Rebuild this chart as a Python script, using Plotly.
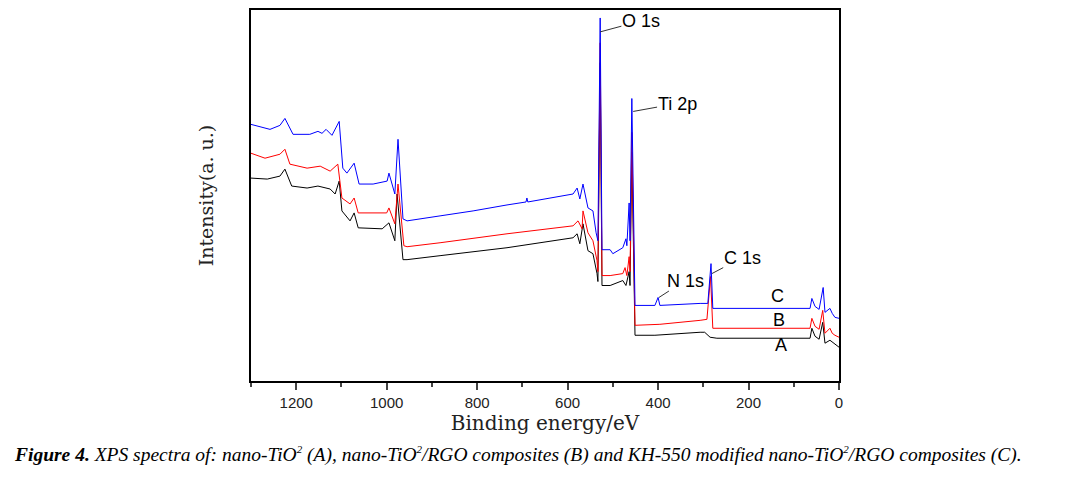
import plotly.graph_objects as go

# Binding energy (eV) and intensity (a.u.)
be_A = [1300, 1264, 1236, 1225, 1210, 1176, 1152, 1125, 1114, 1105, 1099, 1081, 1072, 1063, 1010, 995, 982, 977, 964, 955,
        882, 734, 588, 579, 573, 566, 555, 544, 535, 533, 528, 524, 506, 478, 471, 464, 462, 458, 451, 407, 307, 297, 285,
        270, 64, 60, 53, 44, 36, 31, 20, 9, 0]
int_A = [204, 203, 206, 213, 196, 194, 196, 193, 188, 201, 171, 161, 169, 154, 153, 159, 141, 188, 122, 122,
         126, 134, 144, 148, 138, 158, 131, 128, 108, 100, 320, 96, 96, 101, 96, 110, 96, 230, 46, 46, 49, 49, 44,
         43, 43, 53, 45, 42, 59, 38, 41, 37, 34]

be_B = [1300, 1269, 1236, 1225, 1214, 1176, 1147, 1125, 1108, 1099, 1081, 1072, 1063, 1000, 995, 982, 975, 962, 955,
        882, 734, 588, 577, 568, 566, 555, 544, 535, 533, 528, 524, 506, 478, 473, 469, 464, 462, 458, 451, 407, 396,
        307, 292, 284, 279, 64, 60, 53, 44, 36, 31, 20, 15, 9, 0]
int_B = [229, 224, 228, 233, 218, 214, 216, 211, 218, 184, 178, 184, 169, 169, 174, 158, 198, 136, 135,
         139, 148, 156, 161, 153, 171, 149, 141, 121, 110, 340, 106, 106, 108, 114, 106, 125, 110, 250, 56, 57, 57,
         61, 62, 105, 53, 53, 63, 55, 52, 71, 48, 53, 48, 46, 44]

be_C = [1300, 1258, 1236, 1225, 1207, 1170, 1152, 1143, 1134, 1121, 1105, 1097, 1088, 1072, 1061, 1030, 999, 995, 982,
        975, 964, 955, 882, 809, 734, 692, 690, 688, 588, 579, 573, 566, 555, 544, 537, 533, 528, 524, 506, 500, 478,
        471, 469, 464, 462, 458, 451, 407, 400, 396, 307, 290, 283, 279, 64, 60, 53, 44, 35, 31, 20, 15, 9, 0]
int_C = [258, 253, 257, 264, 248, 248, 251, 249, 253, 247, 261, 214, 209, 219, 198, 198, 201, 209, 188,
         243, 163, 161, 166, 171, 177, 180, 184, 180, 188, 194, 183, 198, 174, 171, 149, 141, 365, 132, 132, 128, 134,
         143, 136, 179, 141, 284, 76, 76, 84, 76, 78, 78, 118, 73, 73, 83, 75, 72, 94, 69, 73, 68, 64, 63]

x_ticks = [1200, 1000, 800, 600, 400, 200, 0]

# Peak labels: (text, peak BE, peak intensity, label BE, label intensity)
peak_labels = [
    ("O 1s", 528, 351, 438, 362),
    ("Ti 2p", 455, 271, 358, 279),
    ("N 1s", 398, 84, 340, 101),
    ("C 1s", 281, 108, 214, 124),
]
curve_labels = [("C", 135, 85), ("B", 133, 61), ("A", 128, 36)]

sup2 = "<sup><span style='font-size:11px'>2</span></sup>"
caption = ("<b>Figure 4.</b> XPS spectra of: nano-TiO" + sup2 + " (A), nano-TiO" + sup2 + "/RGO composites (B) "
           "and KH-550 modified nano-TiO" + sup2 + "/RGO composites (C).")

fig = go.Figure()
fig.add_trace(go.Scatter(x=be_A, y=int_A, mode="lines", line=dict(color="black", width=1), name="A"))
fig.add_trace(go.Scatter(x=be_B, y=int_B, mode="lines", line=dict(color="#ff0000", width=1), name="B"))
fig.add_trace(go.Scatter(x=be_C, y=int_C, mode="lines", line=dict(color="#0000ff", width=1), name="C"))

for txt, px, py, tx, ty in peak_labels:
    fig.add_annotation(x=px, y=py, ax=tx, ay=ty, axref="x", ayref="y", text=txt,
                       showarrow=True, arrowhead=0, arrowwidth=1, arrowcolor="#333333",
                       font=dict(family="Liberation Sans, Arial", size=18, color="black"), borderpad=0)
for txt, tx, ty in curve_labels:
    fig.add_annotation(x=tx, y=ty, text=txt, showarrow=False,
                       font=dict(family="Liberation Sans, Arial", size=18, color="black"))

fig.add_annotation(x=-0.406, y=-0.198, xref="paper", yref="paper", xanchor="left", yanchor="middle",
                   text="<i>" + caption + "</i>", showarrow=False,
                   font=dict(family="Liberation Serif, Times New Roman", size=19.5, color="black"))

fig.update_layout(
    width=1069, height=486,
    margin=dict(l=243, r=238, t=0, b=113),
    paper_bgcolor="white", plot_bgcolor="white",
    showlegend=False,
    xaxis=dict(range=[1300, 0], tickvals=x_ticks, ticks="outside", ticklen=7, tickwidth=2,
               minor=dict(dtick=100, ticks="outside", ticklen=4, tickwidth=2),
               showline=True, linewidth=2, linecolor="black", mirror=True, showgrid=False, zeroline=False,
               tickfont=dict(family="Liberation Sans, Arial", size=15, color="#222222"),
               title=dict(text="Binding energy/eV", standoff=6,
                          font=dict(family="DejaVu Serif", size=20, color="#222222"))),
    yaxis=dict(range=[0, 373], showticklabels=False, ticks="", showline=True, linewidth=2,
               linecolor="black", mirror=True, showgrid=False, zeroline=False,
               title=dict(text="Intensity(a. u.)", standoff=30,
                          font=dict(family="DejaVu Serif", size=19, color="#222222"))),
)

fig.write_html("out.html")
